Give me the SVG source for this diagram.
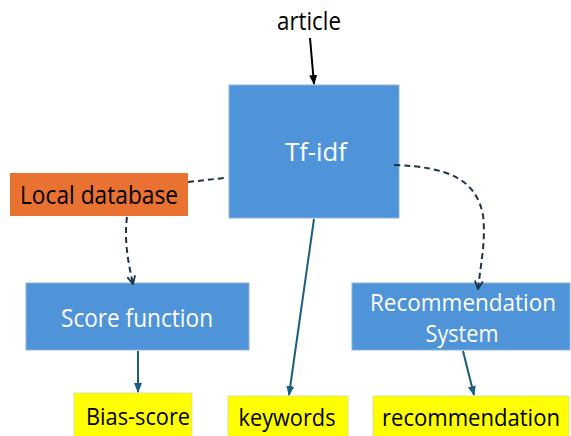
<svg xmlns="http://www.w3.org/2000/svg" width="571" height="436" viewBox="0 0 571 436">
<defs>
<style>
.blue{fill:#4F94D8;stroke:#8FB3D6;stroke-width:1}
.orange{fill:#E97132}
.yellow{fill:#FFFF00;stroke:#D8D8A0;stroke-width:0.8}
.wt{font-family:"Open Sans","Noto Sans",sans-serif;font-size:26px;fill:#FFFFFF;text-anchor:middle}
.bt{font-family:"Open Sans","Noto Sans",sans-serif;font-size:26px;fill:#000000;text-anchor:middle}
.sm{font-size:23px}
.solid{fill:none;stroke:#1D5E80;stroke-width:2}
.dash{fill:none;stroke:#1C3447;stroke-width:2;stroke-dasharray:6 4}
</style>
<marker id="ah" viewBox="0 0 10 10" refX="9" refY="5" markerWidth="5" markerHeight="5" orient="auto" markerUnits="strokeWidth">
<path d="M0,1 L10,5 L0,9 z" fill="#1D5E80"/>
</marker>
<marker id="ahk" viewBox="0 0 10 10" refX="9" refY="5" markerWidth="5" markerHeight="5" orient="auto" markerUnits="strokeWidth">
<path d="M0,1 L10,5 L0,9 z" fill="#000000"/>
</marker>
<marker id="ahv" viewBox="0 0 10 10" refX="9" refY="5" markerWidth="5" markerHeight="5" orient="auto" markerUnits="strokeWidth">
<path d="M1,1 L9,5 L1,9" fill="none" stroke="#1C3447" stroke-width="1.8"/>
</marker>
</defs>
<rect width="571" height="436" fill="#FFFFFF"/>
<g id="article">
<text class="bt" x="309" y="30" textLength="64" lengthAdjust="spacingAndGlyphs">article</text>
</g>
<g id="tfidf">
<rect class="blue" x="229" y="85" width="170" height="133"/>
<text class="wt" x="316" y="161" textLength="62" lengthAdjust="spacingAndGlyphs">Tf-idf</text>
</g>
<g id="localdb">
<rect class="orange" x="10" y="173" width="178" height="43"/>
<text class="bt" x="99" y="204" textLength="158" lengthAdjust="spacingAndGlyphs">Local database</text>
</g>
<g id="score">
<rect class="blue" x="26" y="283" width="223" height="67"/>
<text class="wt" x="137" y="327" textLength="152" lengthAdjust="spacingAndGlyphs">Score function</text>
</g>
<g id="recsys">
<rect class="blue" x="352" y="283" width="218" height="67"/>
<text class="wt sm" x="463" y="311" textLength="186" lengthAdjust="spacingAndGlyphs">Recommendation</text>
<text class="wt sm" x="462" y="342" textLength="73" lengthAdjust="spacingAndGlyphs">System</text>
</g>
<g id="bias">
<rect class="yellow" x="74" y="393" width="118" height="45"/>
<text class="bt sm" x="138" y="425" textLength="104" lengthAdjust="spacingAndGlyphs">Bias-score</text>
</g>
<g id="keywords">
<rect class="yellow" x="228" y="396" width="120" height="42"/>
<text class="bt sm" x="287" y="426" textLength="97" lengthAdjust="spacingAndGlyphs">keywords</text>
</g>
<g id="recommendation">
<rect class="yellow" x="373" y="396" width="196" height="42"/>
<text class="bt sm" x="471" y="426" textLength="178" lengthAdjust="spacingAndGlyphs">recommendation</text>
</g>
<g id="connectors">
<line x1="310" y1="38" x2="314" y2="84" stroke="#000" stroke-width="2" marker-end="url(#ahk)"/>
<path class="dash" d="M188,182 L224,178"/>
<path class="dash" d="M127,217 C124,240 128,262 133,284" marker-end="url(#ahv)"/>
<path class="dash" d="M394,165 C450,167 476,180 483,215 C486,240 481,262 478,289" marker-end="url(#ahv)"/>
<line class="solid" x1="138" y1="351" x2="138" y2="392" marker-end="url(#ah)"/>
<line class="solid" x1="314" y1="219" x2="289" y2="395" marker-end="url(#ah)"/>
<line class="solid" x1="463" y1="351" x2="474" y2="395" marker-end="url(#ah)"/>
</g>
</svg>
